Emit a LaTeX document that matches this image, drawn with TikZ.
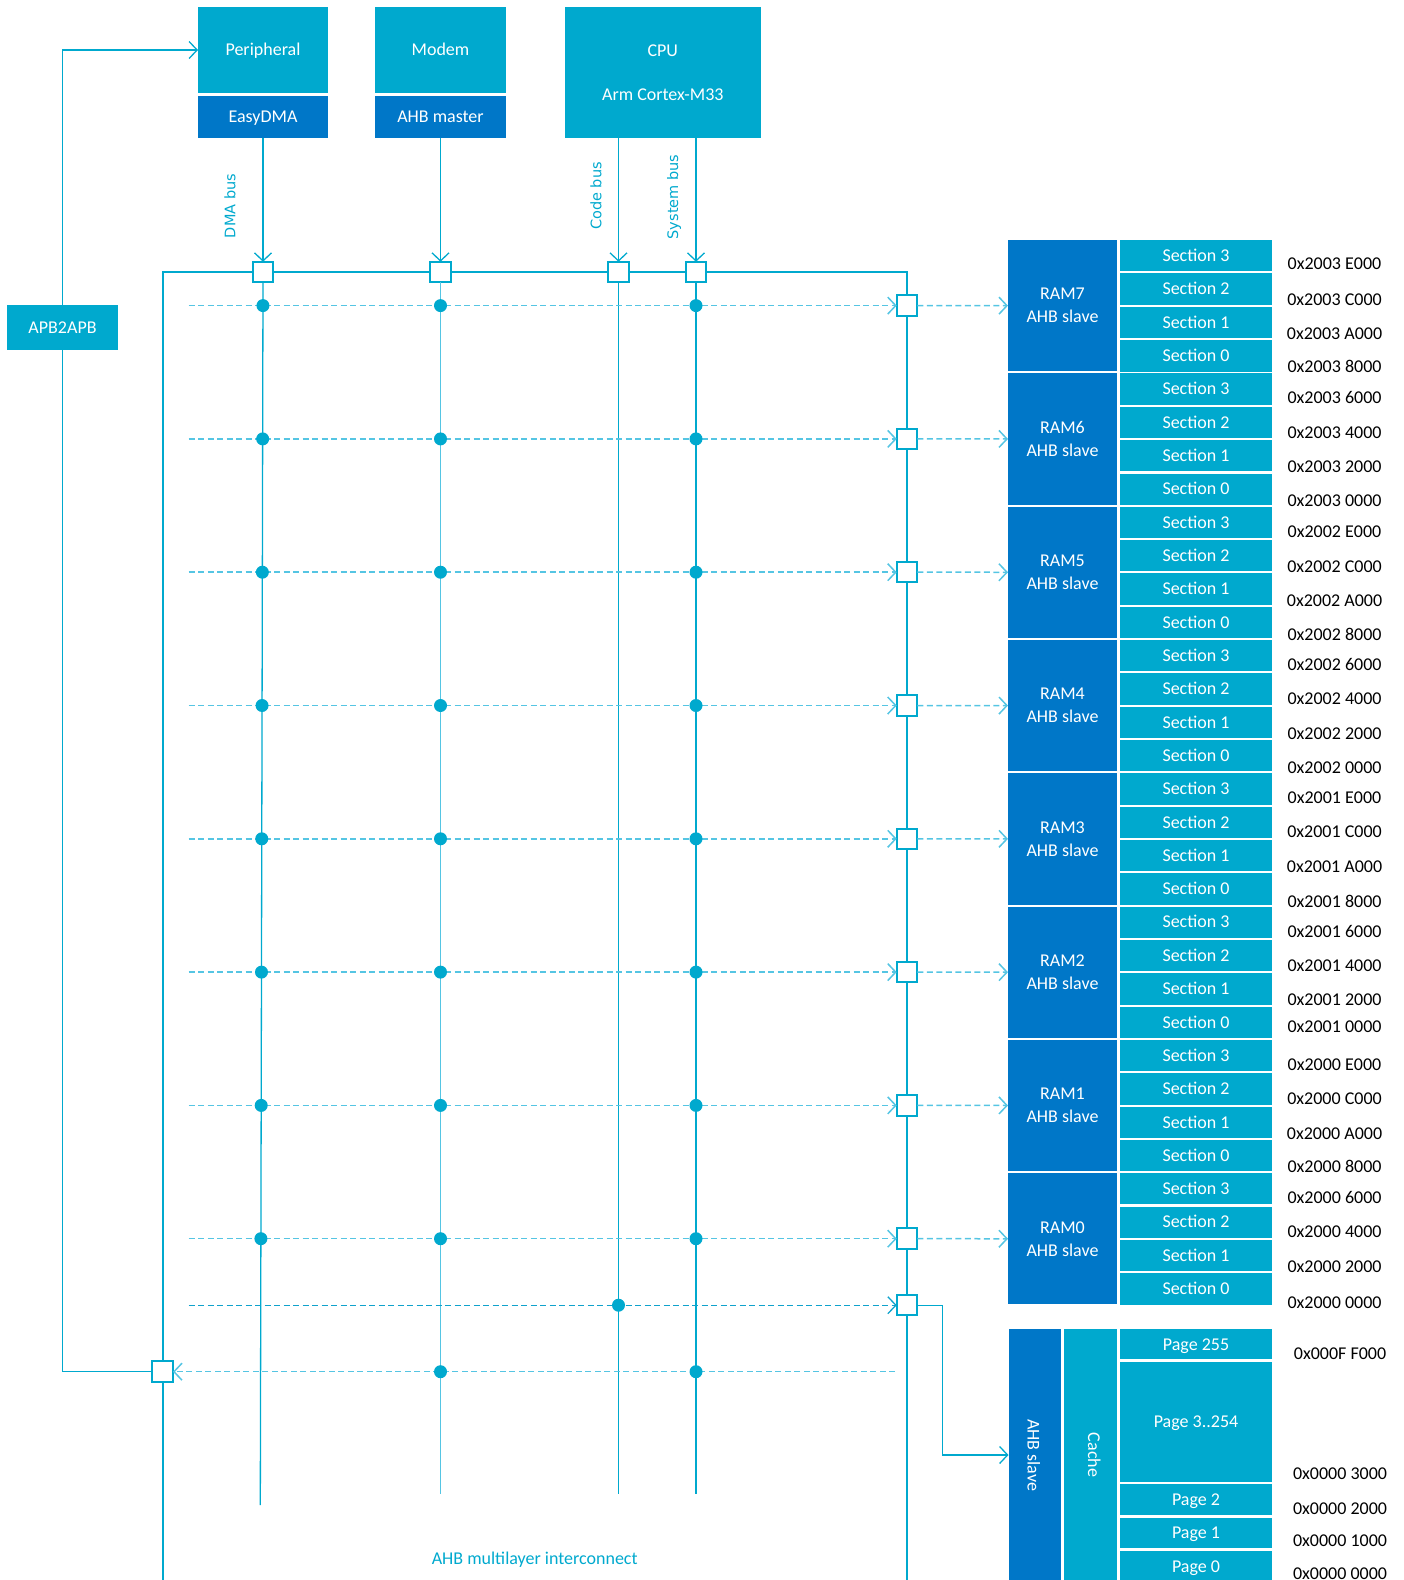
\documentclass[tikz,border=0pt]{standalone}
\usepackage{fontspec}
\setmainfont{Carlito}
\newfontfamily\busfont{DejaVu Sans}
\usetikzlibrary{arrows.meta}
\definecolor{cy}{HTML}{00A9CE}
\definecolor{db}{HTML}{0077C8}
\definecolor{lc}{HTML}{55C5E3}
\definecolor{cd}{HTML}{0FA2CC}
\begin{document}
\begin{tikzpicture}[x=1pt,y=-1pt,
 every node/.style={inner sep=0pt, outer sep=0pt},
 fnt/.style={font=\fontsize{18}{23}\selectfont},
 one/.style={text height=11.6pt, text depth=0pt},
 cbox/.style={fnt, fill=cy, text=white},
 dbox/.style={fnt, fill=db, text=white},
 sqr/.style={draw=cy, fill=white, line width=2pt, minimum size=20.5pt},
 dot/.style={circle, fill=cy, minimum size=13pt},
 frame/.style={draw=cy, line width=2.4pt},
 col/.style={draw=cy, line width=1.3pt},
 lcol/.style={draw=lc, line width=1.3pt},
 dsh/.style={draw=lc, line width=1.5pt, dash pattern=on 6pt off 3.5pt},
 dshd/.style={draw=cd, line width=1.3pt, dash pattern=on 6pt off 3.5pt},
 tip/.style={-{Straight Barb[length=8pt,width=17pt]}},
 addr/.style={fnt, one, text=black},
 buslbl/.style={font=\busfont\fontsize{14.5}{17}\selectfont, text=cy, rotate=90},
]
\useasboundingbox (0,0) rectangle (1404,1580);

% masters
\node[cbox, one, minimum width=130pt, minimum height=86pt] (per) at (263,50) {Peripheral};
\node[dbox, one, minimum width=130pt, minimum height=42pt] (edma) at (263,117) {EasyDMA};
\node[cbox, one, minimum width=130.5pt, minimum height=86pt] (mod) at (440.5,50) {Modem};
\node[dbox, one, minimum width=130.5pt, minimum height=42pt] (ahbm) at (440.5,117) {AHB master};
\node[cbox, align=center, minimum width=196.4pt, minimum height=131pt] (cpu) at (662.8,72.5) {CPU\\[21pt]Arm Cortex-M33};
\node[cbox, one, minimum width=111pt, minimum height=45pt] (apb) at (62.5,327.5) {APB2APB};

% frame of interconnect
\coordinate (fbl) at (163,1584);
\coordinate (ftl) at (163,272);
\coordinate (ftr) at (907,272);
\coordinate (fbr) at (907,1584);
\draw[frame] (fbl) -- (ftl) -- (ftr) -- (fbr);

% master ports
\node[sqr] (sqD) at (263,272) {};
\node[sqr] (sqM) at (440.5,272) {};
\node[sqr] (sqC) at (618.5,272) {};
\node[sqr] (sqS) at (696,272) {};

\draw[col,tip] (edma.south) -- (sqD.north);
\draw[col,tip] (ahbm.south) -- (sqM.north);
\draw[col,tip] (cpu.south -| sqC) -- (sqC.north);
\draw[col,tip] (cpu.south -| sqS) -- (sqS.north);

\node[buslbl] (lblD) at (230,206) {DMA bus};
\node[buslbl] (lblC) at (596,196) {Code bus};
\node[buslbl] (lblS) at (674,197) {System bus};

% bus columns
\coordinate (eD) at (260.3,1505);
\coordinate (eM) at (440.5,1494);
\coordinate (eC) at (618.5,1494);
\coordinate (eS) at (696,1494);
\draw[col] (sqD.south) -- (eD);
\draw[lcol] (sqM.south) -- (eM);
\draw[col] (sqC.south) -- (eC);
\draw[col] (sqS.south) -- (eS);

% RAM rows
\foreach \n [count=\k from 0] in {7,6,5,4,3,2,1,0} {
  \pgfmathsetmacro\yc{305.6+133.3*\k}
  \pgfmathsetmacro\yt{240+133.3*\k}
  \pgfmathsetmacro\dx{263-0.0022*(\yc-283)}
  \coordinate (L\n) at (188.5,\yc);
  \node[sqr] (R\n) at (907,\yc) {};
  \draw[dsh,tip] (L\n) -- (R\n.west);
  \node[dot] (dD\n) at (\dx,\yc) {};
  \node[dot] (dM\n) at (440.5,\yc) {};
  \node[dot] (dS\n) at (696,\yc) {};
  \node[dbox, align=center, minimum width=109pt, minimum height=131.3pt] (ram\n) at (1062.5,\yt+65.65) {RAM\n\\AHB slave};
  \draw[dsh,tip] (R\n.east) -- (ram\n.west);
  \foreach \s [count=\j from 0] in {3,2,1,0} {
    \node[cbox, one, minimum width=152.5pt, minimum height=31.3pt] (s\n\s) at (1196,\yt+15.65+33.4*\j) {Section \s};
  }
}

% code bus row to flash
\coordinate (LC) at (188.5,1305.2);
\node[sqr] (RC) at (907,1305.2) {};
\draw[dshd,tip] (LC) -- (RC.west);
\node[dot] (dC) at (618.5,1305.2) {};
\node[dbox, minimum width=52.7pt, minimum height=252pt] (fahb) at (1034.85,1455) {};
\node[fnt, one, text=white, rotate=-90] (fahbT) at (1033.5,1455) {AHB slave};
\node[cbox, minimum width=52.7pt, minimum height=252pt] (cache) at (1090.35,1455) {};
\node[fnt, one, text=white, rotate=-90] (cacheT) at (1094,1455) {Cache};
\coordinate (bend) at (942.2,1305.2);
\draw[col,tip] (RC.east) -- (bend) |- (fahb.west);

\node[cbox, one, minimum width=152.5pt, minimum height=30.3pt] (p255) at (1196,1344.2) {Page 255};
\node[cbox, one, minimum width=152.5pt, minimum height=119.4pt] (p3) at (1196,1422) {Page 3..254};
\node[cbox, one, minimum width=152.5pt, minimum height=30.7pt] (p2) at (1196,1499.7) {Page 2};
\node[cbox, one, minimum width=152.5pt, minimum height=30.3pt] (p1) at (1196,1532.9) {Page 1};
\node[cbox, one, minimum width=152.5pt, minimum height=31pt] (p0) at (1196,1566.2) {Page 0};

% APB row
\node[sqr] (sqA) at (162.7,1371.7) {};
\coordinate (RA) at (895,1371.7);
\draw[dsh,tip] (RA) -- (sqA.east);
\node[dot] (dMA) at (440.5,1371.7) {};
\node[dot] (dSA) at (696,1371.7) {};
\draw[col,tip] (apb.north) |- (per.west);
\draw[col] (apb.south) |- (sqA.west);

\node[fnt, one, text=cy] (ml) at (534.7,1559) {AHB multilayer interconnect};

% addresses
\foreach \yy/\t [count=\i] in {264.1/0x2003 E000, 299.3/0x2003 C000, 333.6/0x2003 A000, 366.9/0x2003 8000,
  398.1/0x2003 6000, 432.4/0x2003 4000, 466.7/0x2003 2000, 500.9/0x2003 0000,
  531.2/0x2002 E000, 566.4/0x2002 C000, 600.7/0x2002 A000, 635.0/0x2002 8000,
  664.2/0x2002 6000, 698.5/0x2002 4000, 733.7/0x2002 2000, 768.0/0x2002 0000,
  797.2/0x2001 E000, 831.5/0x2001 C000, 866.8/0x2001 A000, 902.1/0x2001 8000,
  931.3/0x2001 6000, 965.6/0x2001 4000, 999.8/0x2001 2000, 1027.0/0x2001 0000,
  1064.3/0x2000 E000, 1098.6/0x2000 C000, 1133.9/0x2000 A000, 1167.1/0x2000 8000,
  1197.4/0x2000 6000, 1231.6/0x2000 4000, 1266.9/0x2000 2000, 1302.2/0x2000 0000} {
  \node[addr] (adr\i) at (1334.5,\yy) {\t};
}
\foreach \yy/\t [count=\i] in {1353.3/0x000F F000, 1474/0x0000 3000, 1508.3/0x0000 2000,
  1541/0x0000 1000, 1573.3/0x0000 0000} {
  \node[addr] (fadr\i) at (1340,\yy) {\t};
}
\end{tikzpicture}
\end{document}
